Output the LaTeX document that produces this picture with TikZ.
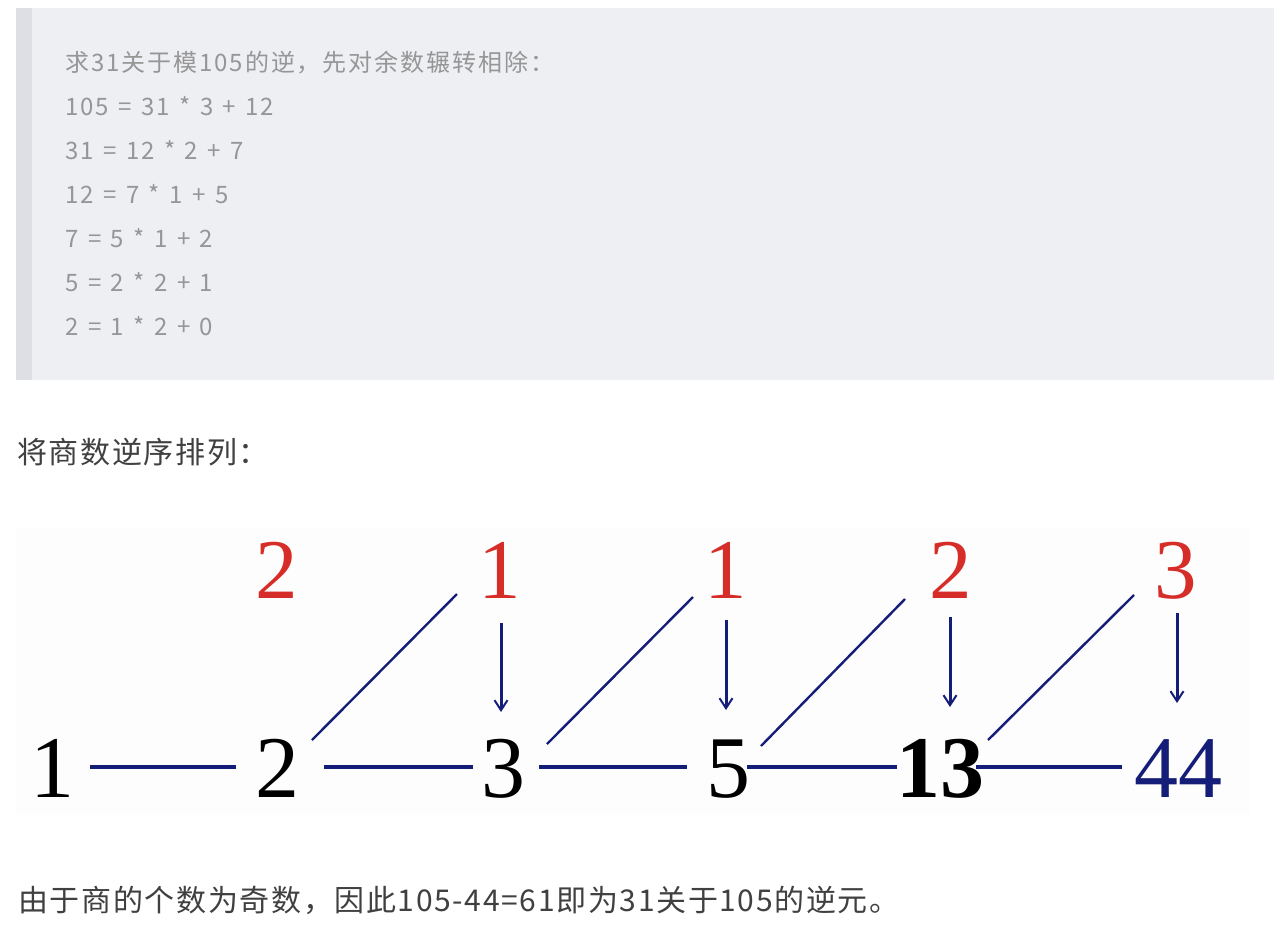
\documentclass[tikz,border=0pt]{standalone}
\usepackage{fontspec}
\setmainfont{Liberation Serif}
\newfontfamily\codefont[LetterSpace=8,WordSpace=1.3]{Noto Sans CJK SC}
\newfontfamily\bodyfont[LetterSpace=5.5]{Noto Sans CJK SC}
\newfontfamily\numfont{Liberation Serif}
\usetikzlibrary{arrows.meta}
\definecolor{codebg}{RGB}{238,239,243}
\definecolor{codebar}{RGB}{221,223,228}
\definecolor{codegray}{RGB}{150,150,150}
\definecolor{bodygray}{RGB}{64,64,64}
\definecolor{qred}{RGB}{214,45,40}
\definecolor{navy}{RGB}{20,30,120}
\definecolor{figbg}{RGB}{253,253,253}
\tikzset{
  codetxt/.style={anchor=base west, inner sep=0pt, text=codegray, font=\codefont\fontsize{24}{28}\selectfont},
  bodytxt/.style={anchor=base west, inner sep=0pt, text=bodygray, font=\bodyfont\fontsize{30}{34}\selectfont},
  bottomnum/.style={inner sep=0pt, text height=60pt, text depth=0pt, font=\numfont\fontsize{88}{88}\selectfont},
  quot/.style={inner sep=0pt, text height=58pt, text depth=0pt, text=qred, font=\numfont\fontsize{85}{85}\selectfont},
  hline/.style={draw=navy, line width=3.8pt},
  diag/.style={draw=navy, line width=2.4pt},
  downarrow/.style={draw=navy, line width=3pt, -{Straight Barb[length=10pt,width=13pt,line width=2pt]}}
}
\begin{document}
\begin{tikzpicture}[x=1pt,y=-1pt]
\useasboundingbox[fill=white] (0,0) rectangle (1274,930);
% code block
\fill[codebg] (16,8) rectangle (1274,380);
\fill[codebar] (16,8) rectangle (32,380);
\node[codetxt] (c0) at (65,71) {求31关于模105的逆，先对余数辗转相除：};
\node[codetxt] (c1) at (65,115) {105 = 31 * 3 + 12};
\node[codetxt] (c2) at (65,159) {31 = 12 * 2 + 7};
\node[codetxt] (c3) at (65,203) {12 = 7 * 1 + 5};
\node[codetxt] (c4) at (65,247) {7 = 5 * 1 + 2};
\node[codetxt] (c5) at (65,291) {5 = 2 * 2 + 1};
\node[codetxt] (c6) at (65,335) {2 = 1 * 2 + 0};
% body text
\node[bodytxt] (t1) at (17,463) {将商数逆序排列：};
% figure
\fill[figbg] (16,528) rectangle (1250,815);
\node[bottomnum] (b1) at (52,767) {1};
\node[bottomnum] (b2) at (277,767) {2};
\node[bottomnum] (b3) at (503,767) {3};
\node[bottomnum] (b5) at (728,767) {5};
\node[bottomnum] (b13) at (940,767) {\textbf{13}};
\node[bottomnum, text=navy] (b44) at (1178,767) {44};
\node[quot] (q1) at (277,569) {2};
\node[quot] (q2) at (500,569) {1};
\node[quot] (q3) at (726,569) {1};
\node[quot] (q4) at (951,569) {2};
\node[quot] (q5) at (1176,569) {3};
% horizontal links
\draw[hline] ([shift={(38,0)}]b1.center) -- ([shift={(-41,0)}]b2.center);
\draw[hline] ([shift={(47,0)}]b2.center) -- ([shift={(-30,0)}]b3.center);
\draw[hline] ([shift={(36,0)}]b3.center) -- ([shift={(-41,0)}]b5.center);
\draw[hline] ([shift={(19,0)}]b5.center) -- ([shift={(-43,0)}]b13.center);
\draw[hline] ([shift={(36,0)}]b13.center) -- ([shift={(-56,0)}]b44.center);
% diagonals
\draw[diag] ([shift={(35,-27)}]b2.center) -- ([shift={(-43,25)}]q2.center);
\draw[diag] ([shift={(44,-23)}]b3.center) -- ([shift={(-33,28)}]q3.center);
\draw[diag] ([shift={(33,-21)}]b5.center) -- ([shift={(-46,30)}]q4.center);
\draw[diag] ([shift={(48,-27)}]b13.center) -- ([shift={(-42,26)}]q5.center);
% arrows
\draw[downarrow] ([shift={(1,54)}]q2.center) -- ([shift={(-2,-55)}]b3.center);
\draw[downarrow] ([shift={(0,51)}]q3.center) -- ([shift={(-2,-57)}]b5.center);
\draw[downarrow] ([shift={(-1,48)}]q4.center) -- ([shift={(10,-60)}]b13.center);
\draw[downarrow] ([shift={(1,44)}]q5.center) -- ([shift={(-1,-64)}]b44.center);
% conclusion
\node[bodytxt] (t2) at (18,911) {由于商的个数为奇数，因此105-44=61即为31关于105的逆元。};
\end{tikzpicture}
\end{document}
